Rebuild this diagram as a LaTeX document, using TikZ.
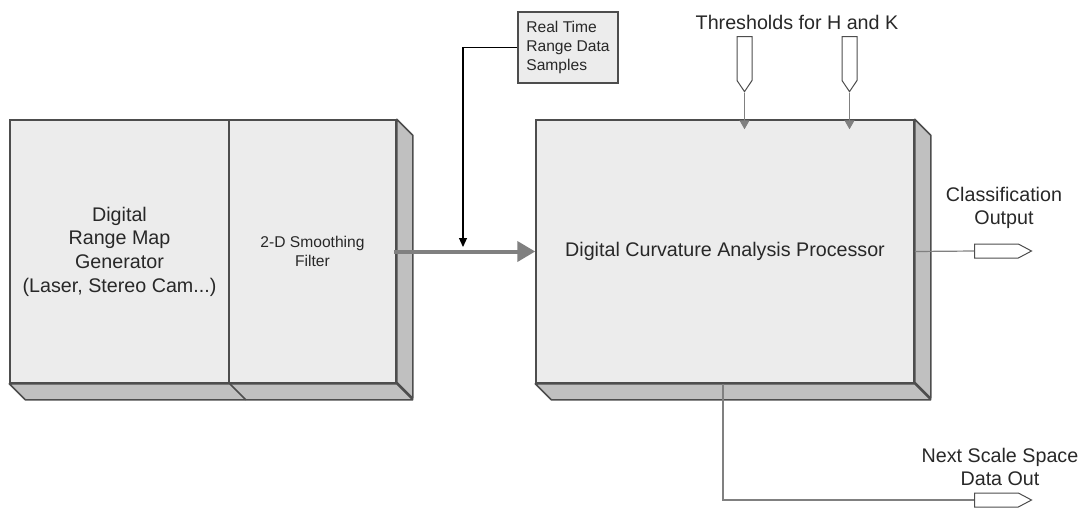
\documentclass[tikz,border=0pt]{standalone}
\usepackage{fontspec}
\setmainfont{Liberation Sans}
\usetikzlibrary{arrows.meta,shapes.symbols}

\definecolor{facegray}{RGB}{236, 236, 236}
\definecolor{sidegray}{RGB}{192, 192, 192}
\definecolor{edgegray}{RGB}{77, 77, 77}
\definecolor{wiregray}{RGB}{128, 128, 128}
\definecolor{textgray}{RGB}{40, 40, 40}

\newcommand{\bigtext}{\fontsize{19.7}{23.6}\selectfont}
\newcommand{\smalltext}{\fontsize{15.6}{19}\selectfont}

\begin{document}
\begin{tikzpicture}[x=1pt, y=-1pt,
		front/.style = {draw=edgegray, line width=1.5pt, fill=facegray, inner sep=0pt,
			minimum height=263pt, text=textgray, align=center, font=\bigtext},
		side/.style = {draw=edgegray, line width=1.5pt, fill=sidegray, line join=round},
		wire/.style = {draw=wiregray, line width=1.2pt},
		port/.style = {signal, draw=edgegray, line width=1pt, fill=white, inner sep=0pt},
		inport/.style = {port, signal to=south, signal pointer angle=68, minimum width=15pt, minimum height=44pt, anchor=north},
		outport/.style = {port, signal to=east, signal pointer angle=56, minimum width=57pt, minimum height=14pt, anchor=west},
		lbl/.style = {text=textgray, align=center, font=\bigtext}]
				\useasboundingbox (0,0) rectangle (1086,507);
				% range map generator + smoothing filter
				\node[front, minimum width=219pt] (gen) at (119.5,251.5)
					{Digital\\Range Map\\Generator\\(Laser, Stereo Cam...)};
				\node[front, minimum width=167pt, font=\smalltext] (filter) at (312.5,251.5)
					{2-D Smoothing\\Filter};
				\draw[side] (filter.north east) -- ++(16,16) -- ++(0,263) -- ++(-16,-16) -- cycle;
				\draw[side] (gen.south west) -- (filter.south east) -- ++(16,16) -- ([shift={(16,16)}]gen.south west) -- cycle;
				\draw[side] (gen.south east) -- ++(16,16);
				% curvature processor
				\node[front, minimum width=378pt] (proc) at (725,251.5)
					{Digital Curvature Analysis Processor};
				\draw[side] (proc.north east) -- ++(16,16) -- ++(0,263) -- ++(-16,-16) -- cycle;
				\draw[side] (proc.south west) -- (proc.south east) -- ++(16,16) -- ([shift={(16,16)}]proc.south west) -- cycle;
				% range samples
				\node[draw=edgegray, line width=1.5pt, fill=facegray, minimum width=100pt, minimum height=71pt,
					inner sep=0pt, align=left, text=textgray, font=\smalltext] (samples) at (568,47.5)
					{Real Time\\Range Data\\Samples};
				\coordinate (merge) at (463,247);
				\draw[wire, line width=4pt, -{Triangle[length=18pt,width=20pt]}] ([xshift=-3pt]filter.east) -- (proc.west);
				\draw[black, line width=1.2pt, -{Triangle[length=9pt,width=8pt]}] (samples.west) -| (merge);
				% thresholds
				\node[lbl] (thlabel) at (797,22) {Thresholds for H and K};
				\node[inport] (thh) at (744.5,36) {};
				\node[inport] (thk) at (849.5,36) {};
				\draw[wire, -{Triangle[length=9pt,width=10pt]}] (thh.south) -- ([yshift=-10pt]thh.south |- proc.north);
				\draw[wire, -{Triangle[length=9pt,width=10pt]}] (thk.south) -- ([yshift=-10pt]thk.south |- proc.north);
				% outputs
				\node[lbl] (classlabel) at (1004,208) {Classification\\Output};
				\node[outport] (classout) at (974,251) {};
				\draw[wire] (proc.east) -- (classout.west);
				\node[lbl] (nextlabel) at (1000,467) {Next Scale Space\\Data Out};
				\node[outport] (nextout) at (974,500) {};
				\draw[wire] ([xshift=-2pt]proc.south) |- (nextout.west);
			\end{tikzpicture}
\end{document}
